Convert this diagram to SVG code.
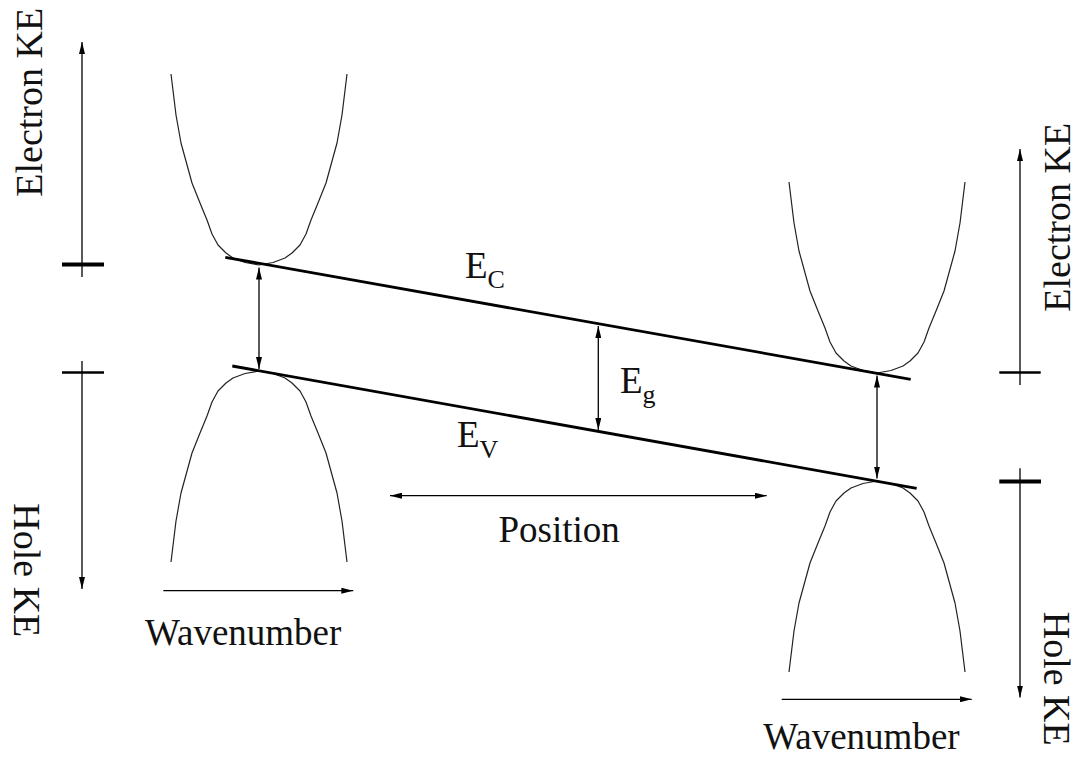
<svg xmlns="http://www.w3.org/2000/svg" xmlns:xlink="http://www.w3.org/1999/xlink" width="1078" height="757" viewBox="0 0 1078 757">
<style>
  .lbl { font-family: "Liberation Serif", "Times New Roman", serif; font-size: 37px; fill: #111; }
  .rot { font-family: "Liberation Serif", "Times New Roman", serif; font-size: 38px; fill: #111; }
  .sub { font-size: 26px; }
  .band { fill: none; stroke: #222; stroke-width: 1.2; stroke-linejoin: round; }
  .level { fill: none; stroke: #000; stroke-width: 2.8; }
  .arr { fill: none; stroke: #000; stroke-width: 1.3; }
  .tick { stroke: #000; stroke-width: 2.4; }
  .tickb { stroke: #000; stroke-width: 4; }
</style>
<defs>
  <marker id="ah" markerUnits="userSpaceOnUse" viewBox="0 0 12 6" refX="12" refY="3" markerWidth="12" markerHeight="6" orient="auto-start-reverse">
    <path d="M0,0 L12,3 L0,6 z" fill="#000"/>
  </marker>
  <path id="curve" d="M-88,-191 L-83,-150 L-78,-122 L-67,-82 L-59,-62 L-52,-45 L-47,-31 L-41,-20 L-33,-12 L-26,-7 L-14,-2.5 L0,0 L14,-2.5 L26,-7 L33,-12 L41,-20 L47,-31 L52,-45 L59,-62 L67,-82 L78,-122 L83,-150 L88,-191"/>
</defs>
<rect width="1078" height="757" fill="#fff"/>

<g id="left-conduction-band"><use xlink:href="#curve" href="#curve" class="band" transform="translate(259,265)"/></g>
<g id="left-valence-band"><use xlink:href="#curve" href="#curve" class="band" transform="translate(259,371) scale(1,-1)"/></g>
<g id="right-conduction-band"><use xlink:href="#curve" href="#curve" class="band" transform="translate(877,373)"/></g>
<g id="right-valence-band"><use xlink:href="#curve" href="#curve" class="band" transform="translate(877,481) scale(1,-1)"/></g>

<g id="Ec-level">
  <line class="level" x1="225.3" y1="257.3" x2="910.7" y2="379.3"/>
  <text class="lbl" x="465" y="278">E<tspan class="sub" dy="10">C</tspan></text>
</g>
<g id="Ev-level">
  <line class="level" x1="232.3" y1="366" x2="916.7" y2="488.3"/>
  <text class="lbl" x="457" y="446.7">E<tspan class="sub" dy="11">V</tspan></text>
</g>
<g id="Eg-label">
  <text class="lbl" x="620" y="393">E<tspan class="sub" dy="10">g</tspan></text>
</g>

<g id="left-axis">
  <line class="tickb" x1="62" y1="264.5" x2="104" y2="264.5"/>
  <line class="tick" x1="62" y1="372.5" x2="104" y2="372.5"/>
  <text class="rot" transform="translate(41.5,196.7) rotate(-90)">Electron KE</text>
  <text class="rot" transform="translate(14,503.3) rotate(90)">Hole KE</text>
</g>
<g id="right-axis">
  <line class="tick" x1="999.3" y1="372.5" x2="1040.7" y2="372.5"/>
  <line class="tickb" x1="999.3" y1="481.5" x2="1041" y2="481.5"/>
  <text class="rot" transform="translate(1069.5,311.7) rotate(-90)">Electron KE</text>
  <text class="rot" transform="translate(1043.5,611.7) rotate(90)">Hole KE</text>
</g>
<g id="position-label">
  <text class="lbl" x="559.2" y="541.7" text-anchor="middle">Position</text>
</g>
<g id="left-wavenumber-label">
  <text class="lbl" x="145" y="645">Wavenumber</text>
</g>
<g id="right-wavenumber-label">
  <text class="lbl" x="763.3" y="749">Wavenumber</text>
</g>

<g id="connectors">
  <line class="arr" x1="82" y1="277" x2="82" y2="42" marker-end="url(#ah)"/>
  <line class="arr" x1="82" y1="361" x2="82" y2="589" marker-end="url(#ah)"/>
  <line class="arr" x1="1020" y1="385" x2="1020" y2="149" marker-end="url(#ah)"/>
  <line class="arr" x1="1020" y1="468.3" x2="1020" y2="697.5" marker-end="url(#ah)"/>
  <line class="arr" x1="259" y1="267.5" x2="259" y2="369" marker-start="url(#ah)" marker-end="url(#ah)"/>
  <line class="arr" x1="877" y1="375.5" x2="877" y2="478.5" marker-start="url(#ah)" marker-end="url(#ah)"/>
  <line class="arr" x1="598.3" y1="326" x2="598.3" y2="430" marker-start="url(#ah)" marker-end="url(#ah)"/>
  <line class="arr" x1="390" y1="495.7" x2="766.7" y2="495.7" marker-start="url(#ah)" marker-end="url(#ah)"/>
  <line class="arr" x1="163.3" y1="590.7" x2="353.3" y2="590.7" marker-end="url(#ah)"/>
  <line class="arr" x1="781.7" y1="699.3" x2="971.7" y2="699.3" marker-end="url(#ah)"/>
</g>
</svg>
